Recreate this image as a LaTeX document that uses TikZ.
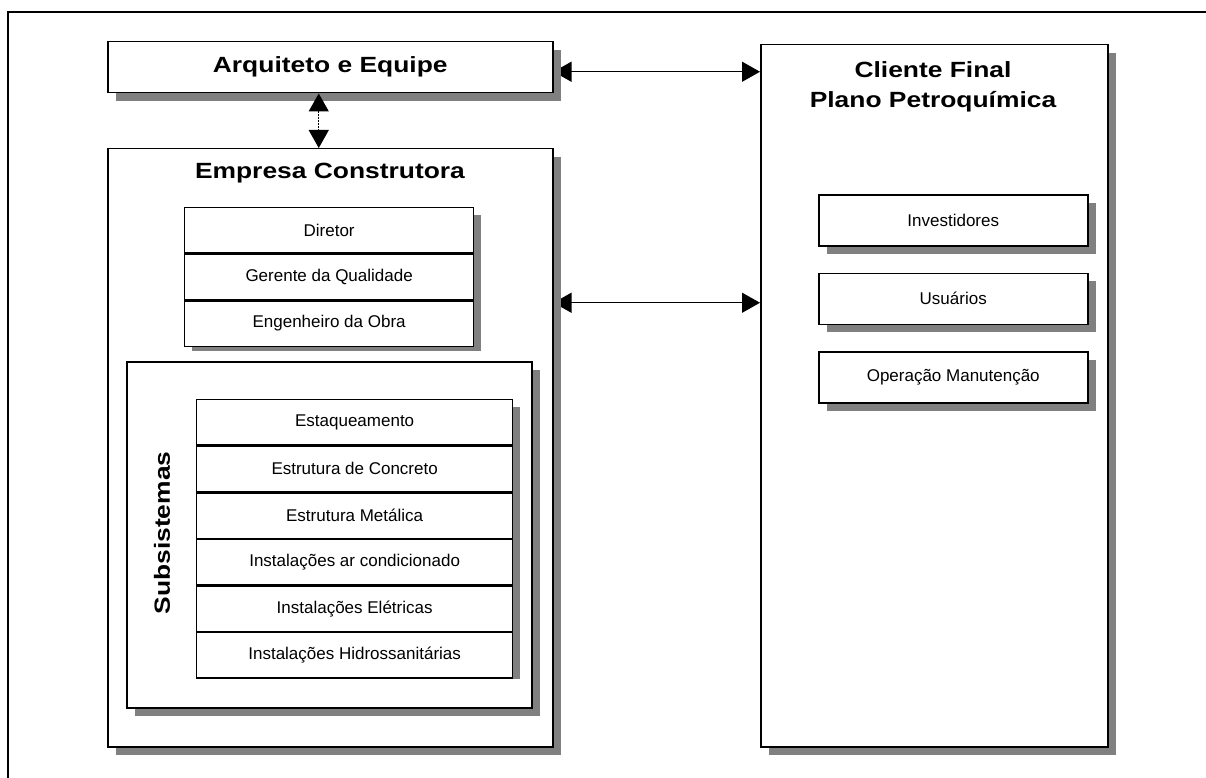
\documentclass[tikz,border=0pt]{standalone}
\usepackage{fontspec}
\setmainfont{Liberation Sans}
\newfontfamily\headfont{Liberation Sans}[FakeStretch=1.2]
\usetikzlibrary{arrows.meta, positioning, shadows, backgrounds}
\definecolor{shadowgray}{gray}{0.5}

\begin{document}
\begin{tikzpicture}[
    x=1pt, y=-1pt,
    >={Triangle[length=18pt, width=20pt]},
    every node/.style={inner sep=0pt, font=\fontsize{17}{20}\selectfont},
    box/.style={draw, line width=1.5pt, fill=white,
        general shadow={fill=shadowgray, shadow xshift=8pt, shadow yshift=-8pt}},
    head/.style={font=\headfont\bfseries\fontsize{22}{30}\selectfont},
    row/.style={draw, line width=1.3pt, fill=white, minimum height=45.3pt},
    staffrow/.style={row, minimum width=289pt},
    subrow/.style={row, minimum width=316pt},
    stackshadow/.style={fill=shadowgray},
    clientbox/.style={box, minimum width=269pt, minimum height=51pt},
    link/.style={<->, line width=1.2pt},
]
\useasboundingbox (0,0) rectangle (1206,778);

% Outer boxes
\node[box, head, anchor=north west, minimum width=445pt, minimum height=51pt]
    (arq) at (107,41) {Arquiteto e Equipe};
\node[box, anchor=north west, minimum width=445pt, minimum height=598pt] (emp) at (107,148) {};
\node[box, anchor=north west, minimum width=347pt, minimum height=702pt] (cli) at (760,44) {};

% Titles
\node[head] (emptitle) at (330,173) {Empresa Construtora};
\node[head, align=center] (clititle) at (933,87) {Cliente Final\\Plano Petroquímica};

% Staff of the construction company
\coordinate (staff) at (184,207);
\fill[stackshadow] ([shift={(8,8)}]staff) rectangle ++(289,136);
\node[staffrow, anchor=north west] (dir) at (staff) {Diretor};
\node[staffrow, below=0pt of dir] (ger) {Gerente da Qualidade};
\node[staffrow, below=0pt of ger] (eng) {Engenheiro da Obra};

% Subsystems
\node[box, anchor=north west, minimum width=405pt, minimum height=346pt] (sub) at (126,361) {};
\node[head, rotate=90] (subtitle) at (162,533) {Subsistemas};
\coordinate (subs) at (196,399);
\fill[stackshadow] ([shift={(8,8)}]subs) rectangle ++(316,272);
\node[subrow, anchor=north west] (est) at (subs) {Estaqueamento};
\node[subrow, below=0pt of est] (conc) {Estrutura de Concreto};
\node[subrow, below=0pt of conc] (met) {Estrutura Metálica};
\node[subrow, below=0pt of met] (arc) {Instalações ar condicionado};
\node[subrow, below=0pt of arc] (ele) {Instalações Elétricas};
\node[subrow, below=0pt of ele] (hid) {Instalações Hidrossanitárias};

% Final client
\node[clientbox, anchor=north west] (inv) at (818,194) {Investidores};
\node[clientbox, below=26pt of inv] (usu) {Usuários};
\node[clientbox, below=26pt of usu] (ope) {Operação Manutenção};

% Links to the client and frame, kept under the shadows
\coordinate (a1) at ([yshift=-4.5pt]arq.east);
\coordinate (a2) at ([yshift=145pt]emp.east);
\begin{scope}[on background layer]
\draw[line width=2pt] (8,790) -- (8,12) -- (1220,12);
\draw[link] (a1) -- (a1 -| cli.west);
\draw[link] (a2) -- (a2 -| cli.west);
\end{scope}

% Architect and builder
\coordinate (d1) at ([xshift=-11.5pt]arq.south);
\draw[link, dash pattern=on 1.5pt off 1.5pt] (d1) -- (d1 |- emp.north);

\end{tikzpicture}
\end{document}
